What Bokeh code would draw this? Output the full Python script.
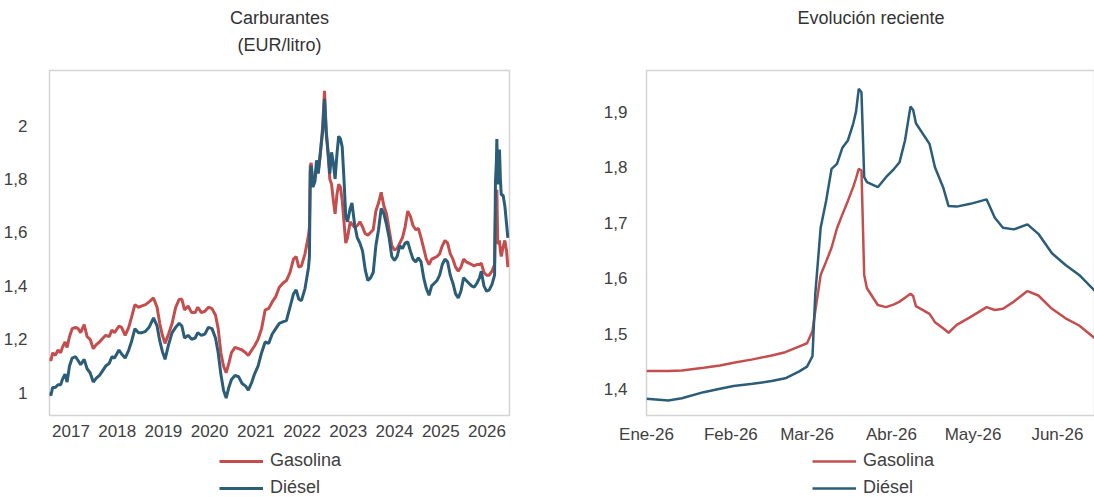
import pandas as pd
from bokeh.plotting import figure
from bokeh.layouts import row, column
from bokeh.models import (ColumnDataSource, Range1d, FixedTicker, CustomJSTickFormatter,
                          Legend, LegendItem, Title)
from bokeh.embed import file_html
from bokeh.resources import INLINE

# ---------------- data ----------------
hist_dates = [
    "2016-07-12", "2016-07-26", "2016-08-09", "2016-08-30", "2016-09-20", "2016-10-11", "2016-10-25",
    "2016-11-15", "2016-12-01", "2016-12-20", "2017-01-10", "2017-02-06", "2017-02-27", "2017-03-18",
    "2017-04-15", "2017-05-08", "2017-06-01", "2017-06-26", "2017-07-20", "2017-08-14", "2017-09-11",
    "2017-10-02", "2017-10-30", "2017-11-20", "2017-12-11", "2018-01-15", "2018-02-05", "2018-03-05",
    "2018-04-02", "2018-04-23", "2018-05-21", "2018-06-18", "2018-07-16", "2018-08-13", "2018-09-10",
    "2018-10-15", "2018-11-12", "2018-12-03", "2018-12-24", "2019-01-14", "2019-02-11", "2019-03-11",
    "2019-04-08", "2019-05-06", "2019-05-27", "2019-06-17", "2019-07-15", "2019-08-12", "2019-09-09",
    "2019-09-30", "2019-10-28", "2019-11-25", "2019-12-23", "2020-01-20", "2020-02-17", "2020-03-09",
    "2020-03-30", "2020-04-20", "2020-05-11", "2020-06-01", "2020-06-22", "2020-07-20", "2020-08-17",
    "2020-09-14", "2020-10-12", "2020-11-02", "2020-11-30", "2020-12-21", "2021-01-18", "2021-02-15",
    "2021-03-15", "2021-04-12", "2021-05-10", "2021-06-07", "2021-07-05", "2021-08-02", "2021-08-30",
    "2021-09-27", "2021-10-25", "2021-11-15", "2021-12-06", "2021-12-27", "2022-01-24", "2022-02-21",
    "2022-02-28", "2022-03-07", "2022-03-14", "2022-03-28", "2022-04-11", "2022-04-25", "2022-05-09",
    "2022-05-23", "2022-06-13", "2022-06-27", "2022-07-11", "2022-07-25", "2022-08-08", "2022-08-22",
    "2022-09-05", "2022-09-19", "2022-10-03", "2022-10-17", "2022-10-31", "2022-11-14", "2022-11-28",
    "2022-12-12", "2022-12-26", "2023-01-16", "2023-01-30", "2023-02-20", "2023-03-13", "2023-04-03",
    "2023-04-24", "2023-05-15", "2023-06-05", "2023-06-26", "2023-07-17", "2023-08-07", "2023-08-28",
    "2023-09-18", "2023-10-09", "2023-10-30", "2023-11-20", "2023-12-11", "2024-01-01", "2024-01-22",
    "2024-02-12", "2024-03-04", "2024-03-25", "2024-04-15", "2024-05-06", "2024-05-27", "2024-06-17",
    "2024-07-08", "2024-07-29", "2024-08-19", "2024-09-09", "2024-09-30", "2024-10-21", "2024-11-11",
    "2024-12-02", "2024-12-23", "2025-01-13", "2025-02-03", "2025-02-24", "2025-03-17", "2025-04-07",
    "2025-04-28", "2025-05-19", "2025-06-09", "2025-06-30", "2025-07-21", "2025-08-11", "2025-09-01",
    "2025-09-22", "2025-10-13", "2025-11-03", "2025-11-17", "2025-12-08", "2025-12-29", "2026-01-19",
    "2026-02-09", "2026-03-02", "2026-03-09", "2026-03-16", "2026-03-20", "2026-03-27", "2026-04-03",
    "2026-04-10", "2026-04-17", "2026-04-24", "2026-05-08", "2026-05-22", "2026-06-05", "2026-06-15",
]
hist_gasolina = [
    1.13, 1.12, 1.15, 1.14, 1.16, 1.15, 1.17,
    1.19, 1.17, 1.21, 1.24, 1.245, 1.24, 1.225,
    1.255, 1.21, 1.20, 1.165, 1.18, 1.19, 1.205,
    1.215, 1.21, 1.235, 1.225, 1.25, 1.245, 1.215,
    1.245, 1.28, 1.33, 1.32, 1.325, 1.33, 1.34,
    1.355, 1.32, 1.26, 1.215, 1.185, 1.22, 1.26,
    1.32, 1.35, 1.35, 1.31, 1.325, 1.30, 1.30,
    1.32, 1.30, 1.305, 1.32, 1.315, 1.29, 1.24,
    1.15, 1.10, 1.075, 1.11, 1.15, 1.17, 1.165,
    1.16, 1.15, 1.14, 1.16, 1.175, 1.20, 1.24,
    1.31, 1.315, 1.34, 1.36, 1.395, 1.41, 1.42,
    1.45, 1.50, 1.51, 1.47, 1.475, 1.52, 1.59,
    1.62, 1.85, 1.86, 1.78, 1.79, 1.84, 1.83,
    1.88, 2.00, 2.13, 1.98, 1.90, 1.80, 1.78,
    1.72, 1.67, 1.74, 1.78, 1.77, 1.72, 1.64,
    1.56, 1.58, 1.64, 1.63, 1.62, 1.625, 1.64,
    1.62, 1.595, 1.59, 1.60, 1.61, 1.68, 1.71,
    1.75, 1.70, 1.67, 1.61, 1.55, 1.535, 1.54,
    1.56, 1.58, 1.62, 1.68, 1.66, 1.625, 1.61,
    1.615, 1.58, 1.54, 1.50, 1.48, 1.50, 1.505,
    1.51, 1.52, 1.55, 1.57, 1.56, 1.52, 1.50,
    1.47, 1.455, 1.47, 1.50, 1.49, 1.485, 1.48,
    1.475, 1.48, 1.48, 1.485, 1.45, 1.44, 1.44,
    1.455, 1.48, 1.66, 1.74, 1.76, 1.56, 1.56,
    1.57, 1.53, 1.51, 1.545, 1.57, 1.53, 1.47,
]
hist_diesel = [
    1.00, 0.99, 1.02, 1.02, 1.03, 1.03, 1.05,
    1.07, 1.04, 1.10, 1.13, 1.135, 1.12, 1.105,
    1.125, 1.09, 1.075, 1.04, 1.055, 1.065, 1.085,
    1.10, 1.11, 1.135, 1.13, 1.16, 1.145, 1.13,
    1.16, 1.19, 1.24, 1.225, 1.225, 1.23, 1.245,
    1.28, 1.25, 1.195, 1.155, 1.125, 1.18, 1.225,
    1.245, 1.26, 1.25, 1.205, 1.215, 1.20, 1.205,
    1.225, 1.215, 1.22, 1.245, 1.24, 1.205, 1.15,
    1.07, 1.01, 0.98, 1.02, 1.05, 1.065, 1.06,
    1.035, 1.025, 1.01, 1.04, 1.07, 1.10, 1.15,
    1.19, 1.185, 1.22, 1.24, 1.26, 1.265, 1.27,
    1.32, 1.37, 1.385, 1.35, 1.345, 1.39, 1.47,
    1.51, 1.83, 1.85, 1.77, 1.79, 1.87, 1.82,
    1.89, 1.98, 2.10, 1.97, 1.90, 1.82, 1.90,
    1.86, 1.80, 1.89, 1.96, 1.95, 1.92, 1.80,
    1.66, 1.64, 1.69, 1.71, 1.63, 1.58, 1.56,
    1.53, 1.46, 1.42, 1.43, 1.45, 1.55, 1.61,
    1.69, 1.67, 1.63, 1.58, 1.51, 1.495, 1.51,
    1.55, 1.54, 1.56, 1.565, 1.53, 1.50, 1.49,
    1.505, 1.49, 1.43, 1.39, 1.365, 1.40, 1.41,
    1.42, 1.44, 1.48, 1.50, 1.49, 1.44, 1.41,
    1.37, 1.355, 1.38, 1.43, 1.42, 1.41, 1.40,
    1.395, 1.41, 1.43, 1.455, 1.40, 1.38, 1.385,
    1.405, 1.44, 1.79, 1.86, 1.95, 1.78, 1.80,
    1.91, 1.80, 1.74, 1.74, 1.70, 1.63, 1.58,
]

rec_dates = [
    "2026-01-01", "2026-01-09", "2026-01-14", "2026-01-22", "2026-01-28", "2026-02-02", "2026-02-09",
    "2026-02-16", "2026-02-21", "2026-02-26", "2026-03-01", "2026-03-03", "2026-03-04", "2026-03-06",
    "2026-03-08", "2026-03-10", "2026-03-12", "2026-03-14", "2026-03-16", "2026-03-18", "2026-03-19",
    "2026-03-20", "2026-03-21", "2026-03-22", "2026-03-23", "2026-03-27", "2026-03-30", "2026-04-02",
    "2026-04-04", "2026-04-06", "2026-04-08", "2026-04-09", "2026-04-10", "2026-04-15", "2026-04-17",
    "2026-04-20", "2026-04-22", "2026-04-25", "2026-04-30", "2026-05-06", "2026-05-09", "2026-05-12",
    "2026-05-16", "2026-05-21", "2026-05-25", "2026-05-30", "2026-06-04", "2026-06-09", "2026-06-15",
]
rec_gasolina = [
    1.433, 1.433, 1.434, 1.439, 1.443, 1.448, 1.454,
    1.461, 1.467, 1.477, 1.483, 1.505, 1.540, 1.606,
    1.630, 1.655, 1.690, 1.715, 1.739, 1.765, 1.780,
    1.797, 1.794, 1.606, 1.582, 1.552, 1.548, 1.553,
    1.558, 1.565, 1.572, 1.568, 1.550, 1.536, 1.521,
    1.510, 1.502, 1.516, 1.530, 1.548, 1.543, 1.545,
    1.558, 1.577, 1.569, 1.545, 1.528, 1.515, 1.491,
]
rec_diesel = [
    1.383, 1.380, 1.384, 1.395, 1.401, 1.406, 1.410,
    1.415, 1.420, 1.432, 1.441, 1.460, 1.570, 1.691,
    1.739, 1.797, 1.806, 1.835, 1.848, 1.879, 1.900,
    1.941, 1.935, 1.782, 1.773, 1.764, 1.782, 1.797,
    1.809, 1.848, 1.909, 1.903, 1.879, 1.842, 1.800,
    1.764, 1.730, 1.729, 1.734, 1.742, 1.709, 1.691,
    1.688, 1.697, 1.680, 1.645, 1.624, 1.606, 1.576,
]

year_labels = ["2017", "2018", "2019", "2020", "2021", "2022", "2023", "2024", "2025", "2026"]
month_ticks = ["2026-01-01", "2026-02-01", "2026-03-01", "2026-04-01", "2026-05-01", "2026-06-01"]
month_labels = ["Ene-26", "Feb-26", "Mar-26", "Abr-26", "May-26", "Jun-26"]
left_yticks = [1, 1.2, 1.4, 1.6, 1.8, 2]
right_yticks = [1.4, 1.5, 1.6, 1.7, 1.8, 1.9]
series_names = ["Gasolina", "Diésel"]
left_title = ["Carburantes", "(EUR/litro)"]
right_title = "Evolución reciente"

# ---------------- style ----------------
FONT = "Liberation Sans"
RED = "#C44E4E"
BLUE = "#2B5D78"
FRAME = "#D4D4D4"
TXT = "#404040"


def ms(d):
    return int(pd.Timestamp(d).timestamp() * 1000)


def base_fig(fw, mbl, mbr, xr, yr, ystand):
    p = figure(frame_width=fw, frame_height=345, x_axis_type="datetime", x_range=xr, y_range=yr,
               output_backend="svg", toolbar_location=None,
               min_border_left=mbl, min_border_right=mbr, min_border_top=70, min_border_bottom=32)
    p.title.visible = False
    p.grid.visible = False
    p.background_fill_color = "white"
    p.border_fill_color = "white"
    p.outline_line_color = FRAME
    p.outline_line_width = 1.5
    for ax in (p.xaxis[0], p.yaxis[0]):
        ax.major_tick_line_color = None
        ax.minor_tick_line_color = None
        ax.axis_line_color = None
        ax.major_label_text_font = FONT
        ax.major_label_text_font_size = "17px"
        ax.major_label_text_color = TXT
    p.yaxis[0].major_label_standoff = ystand
    p.xaxis[0].major_label_standoff = 3
    p.yaxis[0].formatter = CustomJSTickFormatter(code="return String(tick).replace('.', ',');")
    return p


def add_title(p, text, standoff):
    p.add_layout(Title(text=text, align="center", text_font=FONT, text_font_size="18px",
                       text_font_style="normal", text_color="#333333", standoff=standoff), "above")


def legend_fig(width, vx, lw, src):
    # legend-only panel below each chart; its lines use the chart's own data but
    # lie outside this panel's view, so only the legend swatches show
    lf = figure(width=width, height=50, x_range=Range1d(0, 1), y_range=Range1d(0, 1),
                x_axis_location=None, y_axis_location=None, title=None,
                output_backend="svg", toolbar_location=None, min_border=0)
    lf.grid.visible = False
    lf.outline_line_color = None
    lf.background_fill_color = "white"
    lf.border_fill_color = "white"
    a = lf.line("x", "g", source=src, line_color=RED, line_width=lw)
    b = lf.line("x", "d", source=src, line_color=BLUE, line_width=lw)
    leg = Legend(items=[LegendItem(label=series_names[0], renderers=[a]),
                        LegendItem(label=series_names[1], renderers=[b])],
                 location=(vx, -1), orientation="vertical",
                 glyph_width=44, label_standoff=7, spacing=6, padding=0, margin=0,
                 border_line_color=None, background_fill_alpha=0,
                 label_text_font=FONT, label_text_font_size="18px", label_text_color=TXT)
    lf.add_layout(leg)
    return lf


# ---------------- left chart ----------------
hsrc = ColumnDataSource(dict(x=pd.to_datetime(hist_dates), g=hist_gasolina, d=hist_diesel))
p1 = base_fig(460, 40, 37,
              Range1d(ms("2016-07-15"), ms("2026-06-28")),
              Range1d(0.915, 2.206), 16)
p1.line("x", "g", source=hsrc, line_color=RED, line_width=3)
p1.line("x", "d", source=hsrc, line_color=BLUE, line_width=3)
year_ticks = [ms(f"{y}-01-01") for y in year_labels]
p1.xaxis[0].ticker = FixedTicker(ticks=year_ticks)
p1.xaxis[0].formatter = CustomJSTickFormatter(
    args=dict(t=year_ticks, lab=year_labels),
    code="const i = t.indexOf(tick); return i >= 0 ? lab[i] : '';")
p1.yaxis[0].ticker = FixedTicker(ticks=left_yticks)
add_title(p1, left_title[1], 31)
add_title(p1, left_title[0], -21)
l1 = legend_fig(537, 170, 3, hsrc)

# ---------------- right chart ----------------
rsrc = ColumnDataSource(dict(x=pd.to_datetime(rec_dates), g=rec_gasolina, d=rec_diesel))
p2 = base_fig(449, 100, 0,
              Range1d(ms("2026-01-01"), ms("2026-06-15")),
              Range1d(1.353, 1.974), 13)
p2.line("x", "g", source=rsrc, line_color=RED, line_width=2.5)
p2.line("x", "d", source=rsrc, line_color=BLUE, line_width=2.5)
m_ticks = [ms(d) for d in month_ticks]
p2.xaxis[0].ticker = FixedTicker(ticks=m_ticks)
p2.xaxis[0].formatter = CustomJSTickFormatter(
    args=dict(t=m_ticks, lab=month_labels),
    code="const i = t.indexOf(tick); return i >= 0 ? lab[i] : '';")
p2.yaxis[0].ticker = FixedTicker(ticks=right_yticks)
add_title(p2, "\u00a0", 31)
add_title(p2, right_title, -21)
l2 = legend_fig(549, 166, 2.5, rsrc)

layout = row(column(p1, l1), column(p2, l2))
open("out.html", "w").write(file_html(layout, INLINE))
